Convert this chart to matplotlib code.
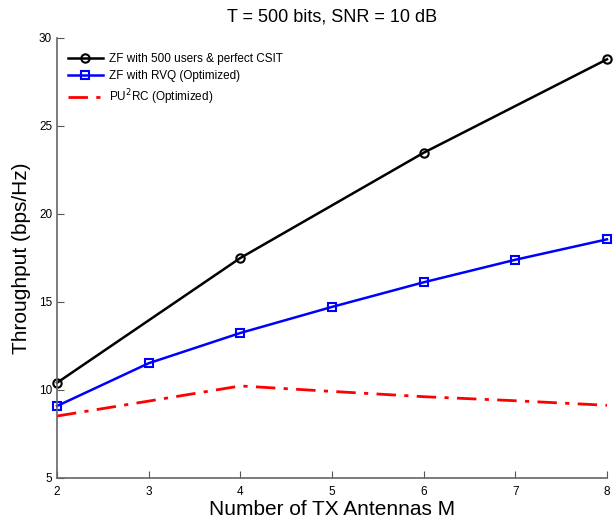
import numpy as np
import matplotlib
matplotlib.use('Agg')
from matplotlib import pyplot as plt

# number of TX antennas
m_ant = [2, 3, 4, 5, 6, 7, 8]

# throughput (bps/Hz)
m_zf = [2, 4, 6, 8]
zf_csit = [10.41, 17.5, 23.48, 28.79]
zf_rvq = [9.09, 11.52, 13.24, 14.72, 16.12, 17.40, 18.56]
pu2rc = [8.52, 9.37, 10.23, 9.92, 9.62, 9.39, 9.13]

x_ticks = [2, 3, 4, 5, 6, 7, 8]
y_ticks = [5, 10, 15, 20, 25, 30]

plt.rcParams['font.family'] = ['Liberation Sans', 'DejaVu Sans']

fig = plt.figure(figsize=(6.15, 5.23), dpi=100)
ax = fig.add_axes([57 / 615, 1 - 478 / 523, 550 / 615, 440 / 523])

ax.plot(m_zf, zf_csit, 'k-', marker='o', markersize=6, markerfacecolor='none',
        markeredgewidth=1.5, linewidth=1.8, clip_on=False,
        label='ZF with 500 users & perfect CSIT')
ax.plot(m_ant, zf_rvq, 'b-', marker='s', markersize=6, markerfacecolor='none',
        markeredgewidth=1.5, linewidth=1.8, clip_on=False,
        label='ZF with RVQ (Optimized)')
ax.plot(m_ant, pu2rc, color='red', linestyle=(0, (7, 3, 1.5, 3)),
        linewidth=2.0, label='PU$^2$RC (Optimized)')

ax.set_xlim(2, 8)
ax.set_ylim(5, 30)
ax.set_xticks(x_ticks)
ax.set_yticks(y_ticks)
ax.tick_params(direction='in', length=5, labelsize=8.5, color='#555555',
               top=False, right=False)
ax.tick_params(axis='x', pad=6)
for side in ['top', 'right']:
    ax.spines[side].set_visible(False)
for side in ['left', 'bottom']:
    ax.spines[side].set_color('#666666')
    ax.spines[side].set_linewidth(1.2)

ax.set_xlabel('Number of TX Antennas M', fontsize=15, labelpad=1)
ax.set_ylabel('Throughput (bps/Hz)', fontsize=15, labelpad=6)
ax.set_title('T = 500 bits, SNR = 10 dB', fontsize=13, pad=12)

ax.legend(loc='upper left', bbox_to_anchor=(0.0, 0.99), frameon=False,
          fontsize=8.5, handlelength=3.0, handletextpad=0.5,
          labelspacing=0.45)

fig.savefig('out.png', dpi=100)
